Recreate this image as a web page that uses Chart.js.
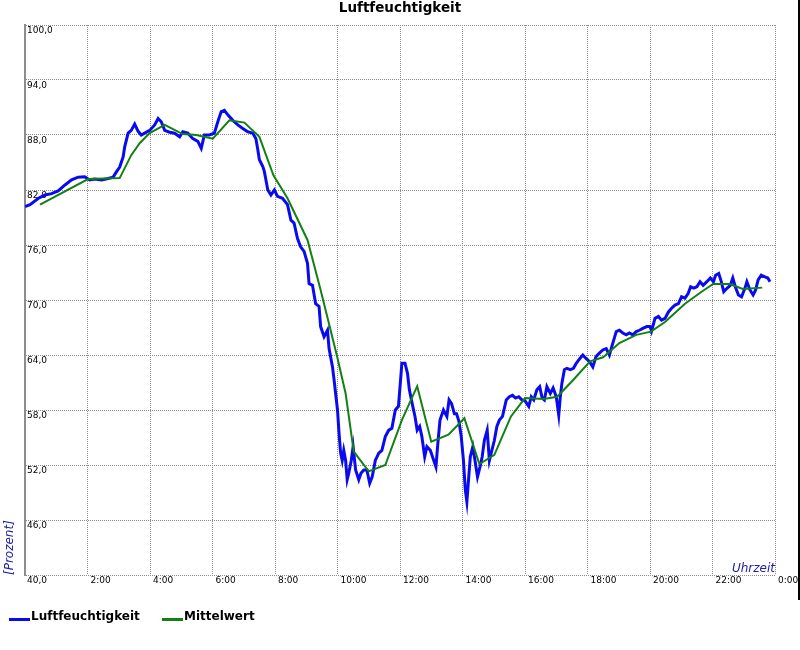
<!DOCTYPE html>
<html>
<head>
<meta charset="utf-8">
<title>Luftfeuchtigkeit</title>
<script src="https://cdn.jsdelivr.net/npm/chart.js@4.4.1/dist/chart.umd.min.js"></script>
<style>
  html, body { margin: 0; padding: 0; background: #ffffff; }
  #wrap { width: 800px; height: 650px; }
</style>
</head>
<body>
<div id="wrap"><canvas id="humidityChart" width="800" height="650"></canvas></div>
<script>
// Messwerte (Stunden seit 0:00, relative Feuchte in %)
const humHours = [
  0.00, 0.16, 0.43, 0.64, 0.85, 1.06, 1.28, 1.49, 1.70, 1.91, 2.07, 2.23, 2.45, 2.66, 2.82, 2.93,
  3.03, 3.14, 3.19, 3.30, 3.40, 3.51, 3.62, 3.72, 3.83, 3.99, 4.15, 4.26, 4.36, 4.47, 4.63, 4.79,
  4.95, 5.05, 5.21, 5.37, 5.53, 5.64, 5.74, 5.90, 6.06, 6.17, 6.28, 6.38, 6.49, 6.65, 6.81, 6.97,
  7.13, 7.29, 7.39, 7.45, 7.50, 7.61, 7.66, 7.71, 7.77, 7.87, 7.98, 8.08, 8.24, 8.40, 8.51, 8.61,
  8.72, 8.82, 8.93, 9.04, 9.09, 9.20, 9.30, 9.41, 9.46, 9.57, 9.68, 9.73, 9.84, 9.89, 9.94, 10.00,
  10.05, 10.10, 10.15, 10.20, 10.26, 10.31, 10.36, 10.44, 10.50, 10.58, 10.68, 10.75, 10.84, 10.94, 11.03, 11.11,
  11.21, 11.32, 11.42, 11.53, 11.64, 11.74, 11.85, 11.95, 12.00, 12.06, 12.16, 12.24, 12.30, 12.39, 12.48, 12.55,
  12.63, 12.70, 12.79, 12.86, 12.97, 13.08, 13.15, 13.21, 13.28, 13.39, 13.50, 13.57, 13.65, 13.74, 13.81, 13.89,
  13.96, 14.03, 14.09, 14.14, 14.20, 14.25, 14.33, 14.40, 14.48, 14.56, 14.63, 14.70, 14.79, 14.86, 14.94, 15.02,
  15.10, 15.18, 15.28, 15.40, 15.50, 15.60, 15.70, 15.80, 15.90, 16.00, 16.12, 16.20, 16.28, 16.38, 16.47, 16.55,
  16.62, 16.70, 16.81, 16.90, 17.00, 17.08, 17.13, 17.18, 17.26, 17.34, 17.45, 17.55, 17.64, 17.75, 17.85, 17.96,
  18.06, 18.17, 18.27, 18.38, 18.49, 18.60, 18.70, 18.81, 18.92, 19.02, 19.13, 19.24, 19.34, 19.45, 19.56, 19.66,
  19.77, 19.90, 20.00, 20.05, 20.16, 20.27, 20.37, 20.48, 20.59, 20.69, 20.80, 20.91, 21.01, 21.12, 21.22, 21.30,
  21.40, 21.50, 21.60, 21.70, 21.82, 21.93, 22.03, 22.10, 22.20, 22.28, 22.36, 22.47, 22.57, 22.65, 22.73, 22.83,
  22.93, 23.04, 23.10, 23.20, 23.30, 23.38, 23.46, 23.56, 23.66, 23.77, 23.84
];
const humValues = [
  80.2, 80.4, 81.1, 81.45, 81.6, 81.9, 82.55, 83.1, 83.4, 83.45, 83.1, 83.2, 83.1, 83.25, 83.4, 84.0,
  84.5, 85.6, 86.7, 88.2, 88.5, 89.2, 88.4, 88.0, 88.2, 88.5, 89.1, 89.8, 89.45, 88.5, 88.3, 88.2,
  87.8, 88.35, 88.2, 87.6, 87.3, 86.55, 88.0, 88.0, 88.2, 89.45, 90.55, 90.7, 90.2, 89.6, 89.1, 88.7,
  88.35, 88.2, 87.6, 86.4, 85.3, 84.55, 84.0, 83.1, 82.0, 81.45, 82.0, 81.3, 81.1, 80.4, 78.7, 78.4,
  76.7, 75.8, 75.3, 74.0, 71.8, 71.6, 69.6, 69.3, 67.1, 66.0, 66.7, 64.7, 62.7, 61.3, 59.8, 58.0,
  55.45, 53.3, 52.5, 53.6, 52.5, 50.4, 51.1, 52.5, 54.0, 51.45, 50.4, 51.1, 51.45, 51.45, 50.0, 50.7,
  52.5, 53.3, 53.6, 55.1, 55.8, 56.0, 58.0, 58.4, 60.5, 63.1, 63.1, 62.0, 60.2, 58.7, 57.3, 55.8,
  56.2, 55.1, 52.9, 54.0, 53.6, 52.5, 51.8, 54.3, 56.9, 58.0, 57.3, 59.1, 58.7, 57.6, 57.6, 56.7,
  55.1, 52.5, 49.3, 48.0, 50.7, 52.9, 54.0, 52.5, 50.7, 51.8, 52.9, 54.7, 55.8, 52.5, 53.6, 54.7,
  56.2, 56.9, 57.3, 59.1, 59.45, 59.6, 59.3, 59.45, 59.1, 59.0, 58.4, 59.45, 59.1, 60.2, 60.55, 59.3,
  59.1, 60.55, 59.8, 60.4, 59.45, 57.45, 59.45, 60.9, 62.4, 62.55, 62.4, 62.55, 63.1, 63.6, 64.0, 63.6,
  63.3, 62.7, 63.8, 64.2, 64.55, 64.7, 64.0, 65.3, 66.55, 66.7, 66.4, 66.2, 66.4, 66.2, 66.55, 66.7,
  66.9, 67.1, 67.1, 66.6, 68.0, 68.2, 67.8, 68.0, 68.7, 69.1, 69.45, 69.6, 70.35, 70.2, 70.7, 71.45,
  71.3, 71.45, 72.0, 71.6, 72.0, 72.4, 72.0, 72.7, 72.9, 72.0, 70.9, 71.3, 71.6, 72.4, 71.45, 70.55,
  70.35, 71.3, 72.0, 71.1, 70.55, 71.1, 72.2, 72.7, 72.55, 72.4, 72.0
];

// Mittelwert
const avgHours = [
  0.48, 2.02, 3.03, 3.40, 3.67, 3.99, 4.47, 5.05, 5.48, 6.01, 6.54, 7.02, 7.50, 7.95, 8.40, 9.04,
  9.46, 9.99, 10.26, 10.52, 11.00, 11.53, 12.06, 12.55, 13.00, 13.55, 14.06, 14.54, 15.02, 15.55, 16.00, 16.60,
  17.03, 17.55, 18.08, 18.50, 19.02, 19.56, 20.03, 20.48, 21.12, 21.65, 22.02, 22.55, 22.97, 23.59
];
const avgValues = [
  80.4, 83.2, 83.3, 85.8, 87.1, 88.2, 89.1, 88.1, 88.0, 87.6, 89.6, 89.35, 87.8, 83.6, 81.1, 76.55,
  71.1, 63.8, 59.8, 53.45, 51.3, 52.0, 56.9, 60.6, 54.55, 55.3, 57.1, 52.1, 53.1, 57.3, 59.3, 59.2,
  59.45, 61.3, 63.3, 63.75, 65.3, 66.2, 66.55, 67.6, 69.6, 70.9, 71.75, 71.75, 71.2, 71.35
];

const seriesNames = ['Luftfeuchtigkeit', 'Mittelwert'];
const seriesColors = ['#0a0af0', '#138013'];

const yMin = 40, yMax = 100, yStep = 6;
const xMin = 0, xMax = 24, xStep = 2;

function toPoints(hours, values) {
  return hours.map((h, i) => ({ x: h, y: values[i] }));
}

function fmtValue(v) {
  return v.toFixed(1).replace('.', ',');
}

function fmtHour(h) {
  if (h === 0) return ''; // sits under the lowest y label
  return (h % 24) + ':00';
}

// Title, axis captions, legend and frame line
const decorPlugin = {
  id: 'decor',
  afterDraw(chart) {
    const ctx = chart.ctx;
    const area = chart.chartArea;
    ctx.save();

    ctx.fillStyle = '#000000';
    ctx.font = 'bold 13.5px "DejaVu Sans"';
    ctx.textAlign = 'center';
    ctx.textBaseline = 'middle';
    ctx.fillText('Luftfeuchtigkeit', 400, 8);

    // axis captions
    ctx.fillStyle = '#2020a8';
    ctx.font = 'italic 12px "DejaVu Sans"';
    ctx.textAlign = 'right';
    ctx.textBaseline = 'alphabetic';
    ctx.fillText('Uhrzeit', area.right, area.bottom - 3);

    ctx.save();
    ctx.translate(13, area.bottom);
    ctx.rotate(-Math.PI / 2);
    ctx.textAlign = 'left';
    ctx.fillText('[Prozent]', 0, 0);
    ctx.restore();

    // legend
    let x = 9;
    const y = 617;
    ctx.font = 'bold 12px "DejaVu Sans"';
    ctx.textAlign = 'left';
    ctx.textBaseline = 'middle';
    seriesNames.forEach((name, i) => {
      ctx.fillStyle = seriesColors[i];
      ctx.fillRect(x, y + 1, 21, 3);
      ctx.fillStyle = '#000000';
      ctx.fillText(name, x + 22, y);
      x += 153;
    });

    // frame line at right edge
    ctx.fillStyle = '#000000';
    ctx.fillRect(798, 0, 2, 600);
    ctx.restore();
  }
};

const gridStyle = {
  color: '#8c8c8c',
  lineWidth: 1,
  drawTicks: false
};

new Chart(document.getElementById('humidityChart'), {
  type: 'line',
  data: {
    datasets: [
      {
        label: seriesNames[1],
        data: toPoints(avgHours, avgValues),
        borderColor: seriesColors[1],
        borderWidth: 2,
        pointRadius: 0,
        tension: 0,
        order: 0
      },
      {
        label: seriesNames[0],
        data: toPoints(humHours, humValues),
        borderColor: seriesColors[0],
        borderWidth: 3,
        pointRadius: 0,
        tension: 0,
        order: 1
      }
    ]
  },
  options: {
    responsive: false,
    animation: false,
    events: [],
    layout: { padding: { left: 25, right: 25, top: 25, bottom: 0 } },
    plugins: {
      legend: { display: false },
      title: { display: false },
      tooltip: { enabled: false }
    },
    scales: {
      x: {
        type: 'linear',
        min: xMin,
        max: xMax,
        afterFit(scale) { scale.height = 75; },
        grid: gridStyle,
        border: { display: false, dash: [1, 1] },
        ticks: {
          stepSize: xStep,
          autoSkip: false,
          maxRotation: 0,
          align: 'start',
          labelOffset: 3,
          padding: 0,
          color: '#000000',
          font: { family: 'DejaVu Sans', size: 9 },
          callback: (v) => fmtHour(v)
        }
      },
      y: {
        min: yMin,
        max: yMax,
        afterFit(scale) { scale.width = 0; },
        grid: gridStyle,
        border: { display: true, color: '#8c8c8c', width: 2, dash: [1, 1] },
        ticks: {
          stepSize: yStep,
          mirror: true,
          padding: 2,
          labelOffset: 6,
          color: '#000000',
          font: { family: 'DejaVu Sans', size: 9 },
          callback: (v) => fmtValue(v)
        }
      }
    }
  },
  plugins: [decorPlugin]
});
</script>
</body>
</html>
